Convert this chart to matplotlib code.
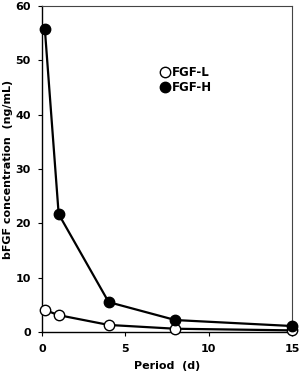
import matplotlib
matplotlib.use("Agg")
import matplotlib.pyplot as plt

days = [0.17, 1, 4, 8, 15]
fgf_l = [4.05, 3.1, 1.3, 0.6, 0.3]
fgf_h = [55.8, 21.7, 5.5, 2.2, 1.1]
xticks = [0, 5, 10, 15]
yticks = [0, 10, 20, 30, 40, 50, 60]

plt.rcParams['font.family'] = ['DejaVu Sans']
plt.rcParams['font.weight'] = 'bold'

fig = plt.figure(figsize=(3.0, 3.74), dpi=100)
ax = fig.add_axes([42/300, 1 - 332/374, 250/300, 326/374])

ax.plot(days, fgf_l, '-o', color='black', lw=1.6, ms=7.5, mfc='white', mec='black', mew=1.0,
        label='FGF-L', zorder=3, clip_on=False)
ax.plot(days, fgf_h, '-o', color='black', lw=1.6, ms=7.5, mfc='black', mec='black', mew=1.0,
        label='FGF-H', zorder=4, clip_on=False)

ax.set_xlim(0, 15)
ax.set_ylim(0, 60)
ax.set_xticks(xticks)
ax.set_yticks(yticks)
ax.tick_params(axis='x', direction='out', length=3, width=0.8, labelsize=8, pad=5.5)
ax.tick_params(axis='y', direction='out', length=3, width=0.8, labelsize=8, pad=5)
for lab in ax.get_xticklabels() + ax.get_yticklabels():
    lab.set_fontweight('bold')
for s in ['left', 'bottom']:
    ax.spines[s].set_linewidth(1.0)
for s in ['top', 'right']:
    ax.spines[s].set_linewidth(0.8)
    ax.spines[s].set_color('#444444')

ax.set_xlabel('Period  (d)', fontsize=8, fontweight='bold')
ax.set_ylabel('bFGF concentration  (ng/mL)', fontsize=8, fontweight='bold')
ax.xaxis.set_label_coords(0.5, -0.09)
ax.yaxis.set_label_coords(-0.118, 0.5)

leg = ax.legend(loc='upper left', bbox_to_anchor=(0.455, 0.835), frameon=False,
                handlelength=0.5, handletextpad=0.35, labelspacing=0.2, borderpad=0,
                prop={'weight': 'bold', 'size': 8.5})
for h in leg.legend_handles:
    h.set_linestyle('')
    h.set_markersize(7.5)

fig.savefig('out.png', dpi=100)
